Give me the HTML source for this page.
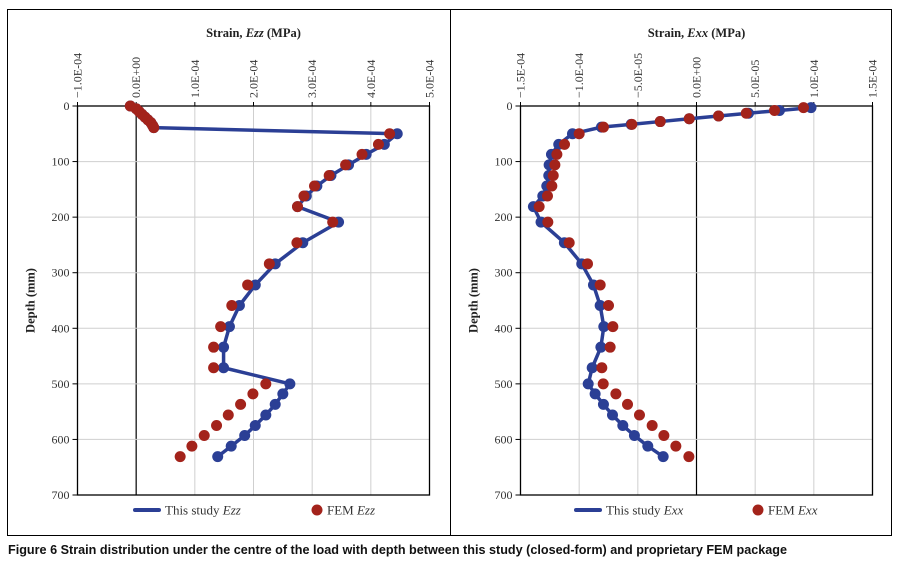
<!DOCTYPE html>
<html><head><meta charset="utf-8"><style>
html,body{margin:0;padding:0;background:#fff;}
svg{display:block;font-family:"Liberation Serif",serif;}
</style></head><body>
<svg id="fig" width="897" height="566" viewBox="0 0 897 566" xmlns="http://www.w3.org/2000/svg">
<rect x="7.5" y="9.5" width="884" height="526" fill="none" stroke="#000" stroke-width="1"/>
<line x1="450.5" y1="9.5" x2="450.5" y2="535.5" stroke="#000" stroke-width="1"/>
<text x="8" y="554" font-family="'Liberation Sans',sans-serif" font-size="13" font-weight="bold" fill="#111" textLength="779" lengthAdjust="spacingAndGlyphs">Figure 6 Strain distribution under the centre of the load with depth between this study (closed-form) and proprietary FEM package</text>
<g id="left"></g>
<g id="right"></g>
</svg>
<script>
const ezzDepths=[0,5,10,15,20,25,30,35,39,50,69,87,106,125,144,162,181,209,246,284,322,359,397,434,471,500,518,537,556,575,593,612,631];
const ezzStudy=[-0.1,0,0.05,0.1,0.15,0.2,0.25,0.28,0.3,4.45,4.23,3.92,3.62,3.32,3.08,2.90,2.75,3.45,2.84,2.37,2.03,1.76,1.59,1.49,1.49,2.62,2.50,2.37,2.21,2.03,1.85,1.62,1.39];
const ezzFem=[-0.1,0,0.05,0.1,0.15,0.2,0.25,0.28,0.3,4.32,4.13,3.85,3.57,3.29,3.04,2.86,2.75,3.35,2.74,2.27,1.90,1.63,1.44,1.32,1.32,2.21,1.99,1.78,1.57,1.37,1.16,0.95,0.75];
const ezzTicks=[-1,0,1,2,3,4,5];
const ezzTickLabels=["\u22121.0E-04","0.0E+00","1.0E-04","2.0E-04","3.0E-04","4.0E-04","5.0E-04"];
const exxDepths=[3,8,13,18,23,28,33,38,50,69,87,106,125,144,162,181,209,246,284,322,359,397,434,471,500,518,537,556,575,593,612,631];
const exxStudy=[0.976,0.707,0.443,0.188,-0.062,-0.309,-0.557,-0.81,-1.057,-1.174,-1.236,-1.256,-1.259,-1.276,-1.31,-1.39,-1.325,-1.126,-0.978,-0.878,-0.821,-0.79,-0.815,-0.889,-0.923,-0.864,-0.793,-0.716,-0.628,-0.529,-0.415,-0.284];
const exxFem=[0.912,0.665,0.424,0.188,-0.062,-0.309,-0.551,-0.793,-1.0,-1.125,-1.19,-1.207,-1.221,-1.233,-1.27,-1.341,-1.267,-1.085,-0.929,-0.821,-0.75,-0.713,-0.736,-0.807,-0.795,-0.687,-0.588,-0.486,-0.378,-0.278,-0.176,-0.065];
const exxTicks=[-1.5,-1,-0.5,0,0.5,1,1.5];
const exxTickLabels=["\u22121.5E-04","\u22121.0E-04","\u22125.0E-05","0.0E+00","5.0E-05","1.0E-04","1.5E-04"];
const depthTicks=[0,100,200,300,400,500,600,700];

const NS="http://www.w3.org/2000/svg";
function mk(parent,tag,attrs){const e=document.createElementNS(NS,tag);for(const k in attrs)e.setAttribute(k,attrs[k]);parent.appendChild(e);return e;}

function drawChart(g,o){
  const x=v=>o.x0+(v-o.xmin)/(o.xmax-o.xmin)*(o.x1-o.x0);
  const y=d=>o.y0+d/700*(o.y1-o.y0);
  o.ticks.forEach((t,i)=>{
    const l=mk(g,'line',{x1:x(t),y1:o.y0,x2:x(t),y2:o.y1,stroke:t===0?'#000':'#cfcfcf','stroke-width':t===0?1.2:1});
    
    
    mk(g,'line',{x1:x(t),y1:o.y0-4,x2:x(t),y2:o.y0,stroke:'#000','stroke-width':1});
    const tx=mk(g,'text',{x:0,y:0,transform:`translate(${x(t)+4},${o.y0-8}) rotate(-90)`,'font-size':'12',fill:'#333'});
    tx.textContent=o.labels[i];
    
    
  });
  depthTicks.forEach(d=>{
    if(d>0&&d<700){const l=mk(g,'line',{x1:o.x0,y1:y(d),x2:o.x1,y2:y(d),stroke:'#cfcfcf','stroke-width':1});
    
    }
    mk(g,'line',{x1:o.x0-5,y1:y(d),x2:o.x0,y2:y(d),stroke:'#000','stroke-width':1});
    const tx=mk(g,'text',{x:o.x0-8,y:y(d)+4,'text-anchor':'end','font-size':'12',fill:'#333'});
    tx.textContent=String(d);
    
    
  });
  const frame=mk(g,'rect',{x:o.x0,y:o.y0,width:o.x1-o.x0,height:o.y1-o.y0,fill:'none',stroke:'#000','stroke-width':1.3});
  
  
  const tt=mk(g,'text',{x:(o.x0+o.x1)/2,y:37,'text-anchor':'middle','font-size':'12.5','font-weight':'bold',fill:'#222'});
  tt.innerHTML='Strain, <tspan font-style="italic">'+o.sym+'</tspan> (MPa)';
  
  
  const yt=mk(g,'text',{x:0,y:0,transform:`translate(${o.x0-43},${(o.y0+o.y1)/2}) rotate(-90)`,'text-anchor':'middle','font-size':'12.5','font-weight':'bold',fill:'#222'});
  yt.textContent='Depth (mm)';
  
  
  const pts=o.depths.map((d,i)=>x(o.study[i])+','+y(d)).join(' ');
  const pl=mk(g,'polyline',{points:pts,fill:'none',stroke:'#2b3f95','stroke-width':3.5,'stroke-linejoin':'round'});
  
  
  o.depths.forEach((d,i)=>{
    const c=mk(g,'circle',{cx:x(o.study[i]),cy:y(d),r:5.5,fill:'#2b3f95'});
    
    
  });
  o.depths.forEach((d,i)=>{
    const c=mk(g,'circle',{cx:x(o.fem[i]),cy:y(d),r:5.5,fill:'#a3231b'});
    
    
  });
  const lg=mk(g,'g',{});
  
  
  mk(lg,'line',{x1:o.lx,y1:510,x2:o.lx+24,y2:510,stroke:'#2b3f95','stroke-width':4,'stroke-linecap':'round'});
  const l1=mk(lg,'text',{x:o.lx+30,y:514.5,'font-size':'13',fill:'#333'});
  l1.innerHTML='This study <tspan font-style="italic">'+o.sym+'</tspan>';
  
  
  mk(lg,'circle',{cx:o.lx+182,cy:510,r:5.5,fill:'#a3231b'});
  const l2=mk(lg,'text',{x:o.lx+192,y:514.5,'font-size':'13',fill:'#333'});
  l2.innerHTML='FEM <tspan font-style="italic">'+o.sym+'</tspan>';
  
  
}
drawChart(document.getElementById('left'),{x0:77.5,x1:429.5,y0:106,y1:495,xmin:-1,xmax:5,ticks:ezzTicks,labels:ezzTickLabels,depths:ezzDepths,study:ezzStudy,fem:ezzFem,sym:'Ezz',lx:135});
drawChart(document.getElementById('right'),{x0:520.5,x1:872.5,y0:106,y1:495,xmin:-1.5,xmax:1.5,ticks:exxTicks,labels:exxTickLabels,depths:exxDepths,study:exxStudy,fem:exxFem,sym:'Exx',lx:576});
</script>
</body></html>
